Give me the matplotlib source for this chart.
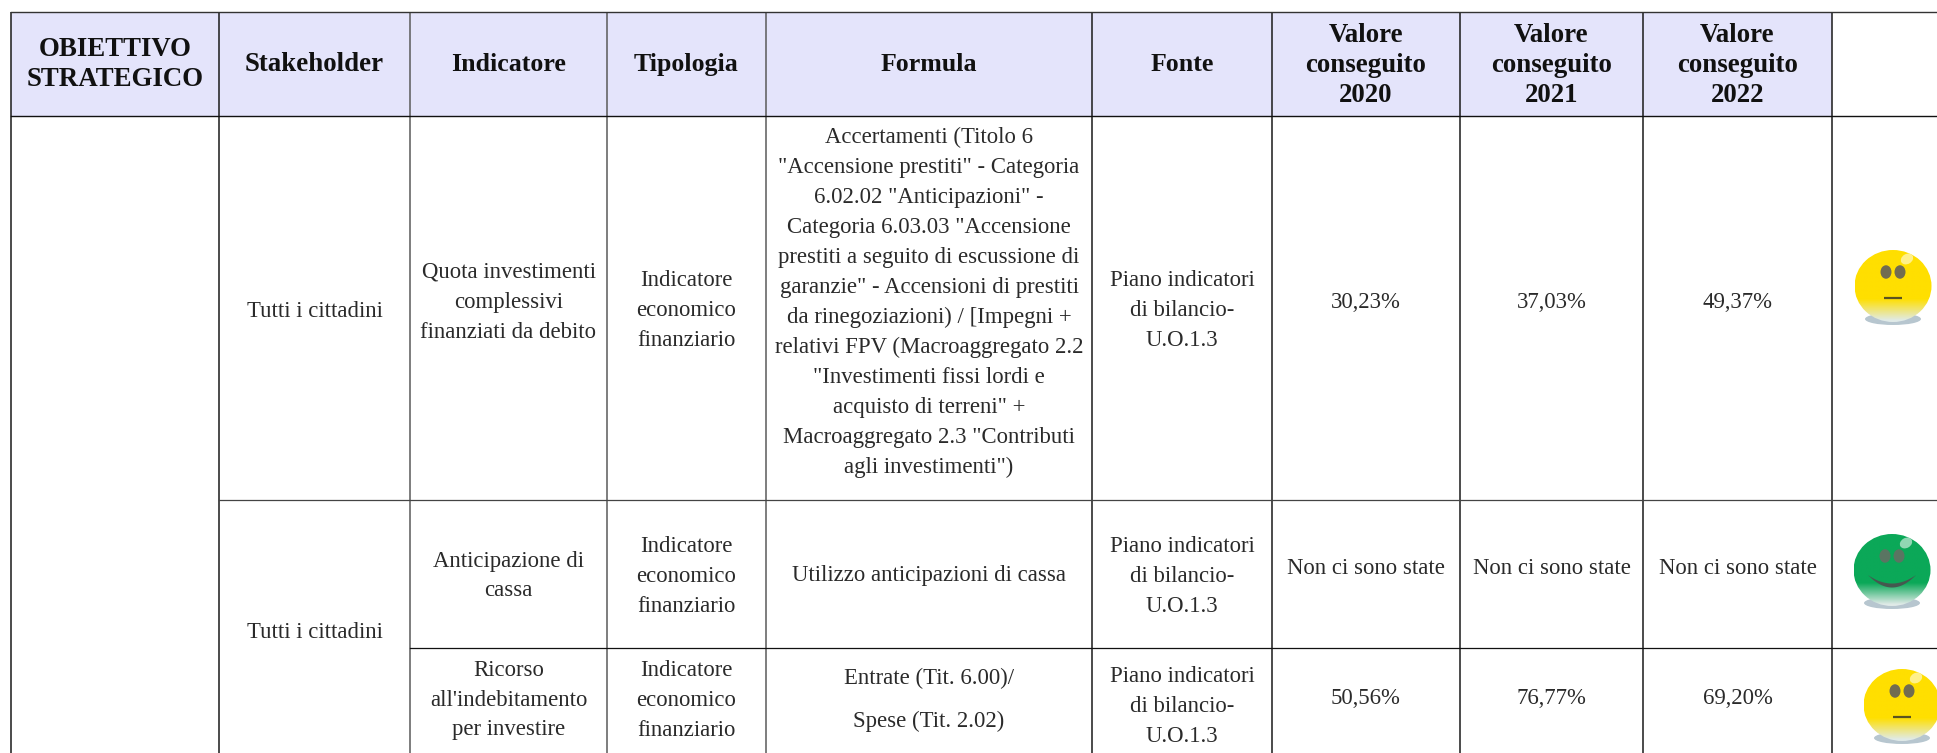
#!/usr/bin/env python3
"""Indicator table with smiley status icons"""

import matplotlib
matplotlib.use('Agg')
import matplotlib.pyplot as plt
import numpy as np
from matplotlib.patches import Ellipse, Rectangle, Polygon

W, H = 1937, 753

# Table content
headers = [
    ['OBIETTIVO', 'STRATEGICO'],
    ['Stakeholder'],
    ['Indicatore'],
    ['Tipologia'],
    ['Formula'],
    ['Fonte'],
    ['Valore', 'conseguito', '2020'],
    ['Valore', 'conseguito', '2021'],
    ['Valore', 'conseguito', '2022'],
]
stakeholder = ['Tutti i cittadini', 'Tutti i cittadini']
indicators = [
    ['Quota investimenti', 'complessivi', 'finanziati da debito'],
    ['Anticipazione di', 'cassa'],
    ['Ricorso', "all'indebitamento", 'per investire'],
]
tipologia = ['Indicatore', 'economico', 'finanziario']
fonte = ['Piano indicatori', 'di bilancio-', 'U.O.1.3']
formula_long = [
    'Accertamenti (Titolo 6',
    '"Accensione prestiti" - Categoria',
    '6.02.02 "Anticipazioni" -',
    'Categoria 6.03.03 "Accensione',
    'prestiti a seguito di escussione di',
    'garanzie" - Accensioni di prestiti',
    'da rinegoziazioni) / [Impegni +',
    'relativi FPV (Macroaggregato 2.2',
    '"Investimenti fissi lordi e',
    'acquisto di terreni" +',
    'Macroaggregato 2.3 "Contributi',
    'agli investimenti")',
]
values_2020 = ['30,23%', 'Non ci sono state', '50,56%']
values_2021 = ['37,03%', 'Non ci sono state', '76,77%']
values_2022 = ['49,37%', 'Non ci sono state', '69,20%']

# Layout in pixels
col_edges = [11, 219, 410, 607, 766, 1092, 1272, 1460, 1643, 1832]
header_top, header_bottom = 12, 116
row_edges = [500, 648]
line_step = 30

HEADER_BG = '#E4E4FB'
INK = '#2a2a2a'
SERIF = 'Liberation Serif'


def col_center(i):
    return (col_edges[i] + col_edges[i + 1]) / 2


def put_lines(ax, x, y, lines, size=16.4, weight='normal', step=line_step, color=INK):
    """Stacked centred lines, y is the middle of the block"""
    top = y - step * (len(lines) - 1) / 2
    for i, line in enumerate(lines):
        ax.text(x, top + i * step, line, ha='center', va='center', family=SERIF,
                fontsize=size, fontweight=weight, color=color)


def gradient_disc(ax, cx, cy, rx, ry, color):
    """Glossy disc, flat colour fading to pale at the bottom"""
    n = 128
    t = np.linspace(0, 1, n)
    fade = np.clip((t - 0.68) / 0.30, 0, 1)[:, None]
    base = np.array(matplotlib.colors.to_rgb(color))
    pale = np.array([0.88, 0.92, 0.91])
    img = (base * (1 - fade) + pale * fade)[:, None, :]
    im = ax.imshow(img, extent=[cx - rx, cx + rx, cy + ry, cy - ry],
                   aspect='auto', zorder=3, interpolation='bilinear')
    clip = Ellipse((cx, cy), 2 * rx, 2 * ry, transform=ax.transData)
    im.set_clip_path(clip)


def smiley(ax, cx, cy, color, eye_color, happy=False):
    rx, ry = 38.5, 36
    # shadow under the face
    ax.add_patch(Ellipse((cx, cy + ry - 3), 56, 12, fc='#9fb4c0', ec='none',
                         alpha=0.75, zorder=2))
    gradient_disc(ax, cx, cy, rx, ry, color)
    ax.add_patch(Ellipse((cx + 14, cy - 27), 13, 10, angle=-30, fc='white', ec='none',
                         alpha=0.55, zorder=4))
    for dx in (-7, 7):
        ax.add_patch(Ellipse((cx + dx, cy - 14), 11, 13.5, fc=eye_color, ec='none', zorder=4))
    if happy:
        # crescent mouth
        xs = np.linspace(-24, 24, 41)
        upper = cy + 5 + 8.5 * (1 - (xs / 24) ** 2)
        lower = cy + 5 + 12.5 * (1 - (xs / 24) ** 2)
        pts = np.r_[np.c_[cx + xs, upper], np.c_[cx + xs[::-1], lower[::-1]]]
        ax.add_patch(Polygon(pts, closed=True, fc='#45584f', ec='none', zorder=4))
    else:
        ax.plot([cx - 9, cx + 9], [cy + 12, cy + 12], color='#5a5320', lw=1.6, zorder=4,
                solid_capstyle='butt')


def main():
    fig = plt.figure(figsize=(W / 100, H / 100), dpi=100)
    fig.patch.set_facecolor('white')
    ax = fig.add_axes([0, 0, 1, 1])

    # Header band
    ax.add_patch(Rectangle((col_edges[0], header_top), col_edges[-1] - col_edges[0],
                           header_bottom - header_top, fc=HEADER_BG, ec='none', zorder=0))

    # Grid lines
    for i, x in enumerate(col_edges):
        c = '#5a5a5a' if i in (2, 3, 4) else '#1a1a1a'
        ax.plot([x, x], [header_top, H], color=c, lw=1.1, zorder=1, solid_capstyle='butt')
    ax.plot([col_edges[0], W], [header_top, header_top], color='#333333', lw=1.0, zorder=1)
    ax.plot([col_edges[0], W], [header_bottom, header_bottom], color='#111111', lw=1.0, zorder=1)
    ax.plot([col_edges[1], W], [row_edges[0], row_edges[0]], color='#444444', lw=0.9, zorder=1)
    ax.plot([col_edges[2], W], [row_edges[1], row_edges[1]], color='#111111', lw=0.9, zorder=1)

    # Header text
    for i, lines in enumerate(headers):
        y = 64 if len(lines) < 3 else 65
        size = 19.4 if i < 2 or len(lines) == 3 else 18.6
        put_lines(ax, col_center(i), y, lines, size=size, weight='bold', color='#111111')

    # Body rows
    put_lines(ax, col_center(1), 311, [stakeholder[0]])
    put_lines(ax, col_center(1), 632, [stakeholder[1]])
    put_lines(ax, col_center(2), 302, indicators[0])
    put_lines(ax, col_center(2), 576, indicators[1])
    put_lines(ax, col_center(2), 700, indicators[2])
    put_lines(ax, col_center(3), 310, tipologia)
    put_lines(ax, col_center(3), 576, tipologia)
    put_lines(ax, col_center(3), 700, tipologia)
    put_lines(ax, col_center(5), 310, fonte)
    put_lines(ax, col_center(5), 576, fonte)
    put_lines(ax, col_center(5), 706, fonte)

    put_lines(ax, col_center(4), 302.5, formula_long)
    put_lines(ax, col_center(4), 576, ['Utilizzo anticipazioni di cassa'])
    put_lines(ax, col_center(4), 678, ['Entrate (Tit. 6.00)/'])
    put_lines(ax, col_center(4), 721, ['Spese (Tit. 2.02)'])

    value_y = [302, 569, 699]
    for c, vals in zip((6, 7, 8), (values_2020, values_2021, values_2022)):
        for y, v in zip(value_y, vals):
            put_lines(ax, col_center(c), y, [v])

    # Status icons
    smiley(ax, 1893, 286, '#FFDF00', '#716c50')
    smiley(ax, 1892, 570, '#0BA858', '#5a7562', happy=True)
    smiley(ax, 1902, 705, '#FFDF00', '#716c50')

    ax.set_xlim(0, W)
    ax.set_ylim(H, 0)
    ax.set_aspect('auto')
    ax.axis('off')

    fig.savefig('out.png', dpi=100, facecolor='white')


if __name__ == '__main__':
    main()
